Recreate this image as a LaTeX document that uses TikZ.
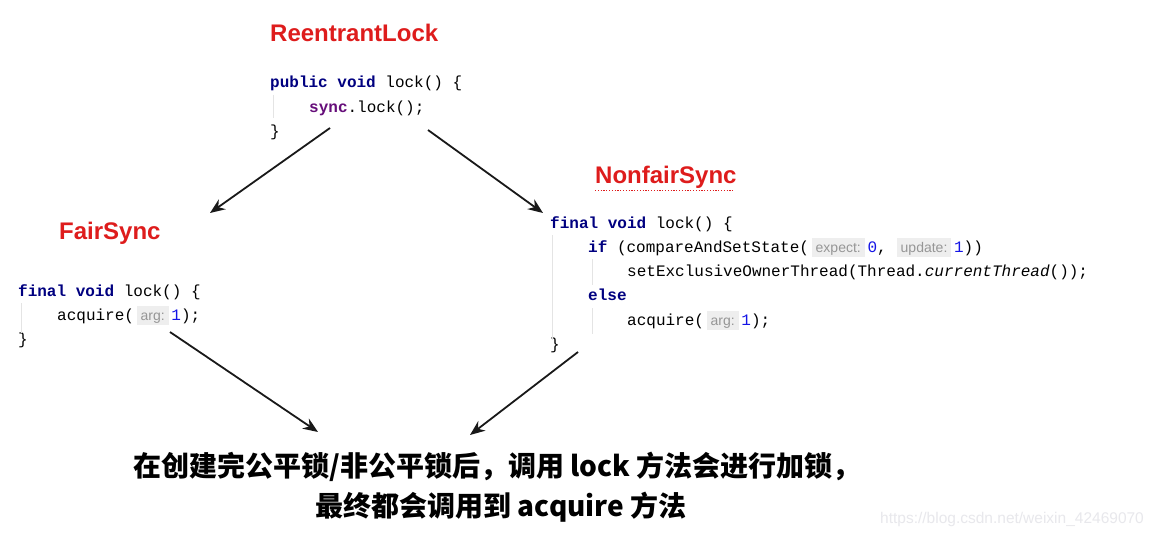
\documentclass[tikz,border=0pt]{standalone}
\usepackage{fontspec}
\setmainfont{Liberation Sans}
\setmonofont{Liberation Mono}
\newfontfamily\cjk{Noto Sans CJK SC}
\newfontfamily\hfont{Liberation Sans}
\usetikzlibrary{arrows.meta}
\definecolor{kw}{RGB}{0,0,128}
\definecolor{fld}{RGB}{102,14,122}
\definecolor{num}{RGB}{20,20,230}
\definecolor{ttl}{RGB}{222,28,28}
\definecolor{hintbg}{RGB}{238,238,238}
\definecolor{hinttx}{RGB}{150,150,150}
\definecolor{guide}{RGB}{228,228,228}
\definecolor{wm}{RGB}{232,232,236}
\newcommand\kwd[1]{\textcolor{kw}{\bfseries #1}}
\newcommand\nm[1]{\textcolor{num}{#1}}
\newcommand\hnt[1]{{\setlength\fboxsep{0pt}\colorbox{hintbg}{\rule[-5pt]{0pt}{19pt}\hspace{4pt}{\hfont\fontsize{14}{14}\selectfont\color{hinttx}#1}\hspace{4pt}}}}
\tikzset{
  code/.style={anchor=base west, inner sep=0pt, font=\ttfamily\fontsize{16}{16}\selectfont},
  ttlnode/.style={anchor=base west, inner sep=0pt, text=ttl, font=\bfseries\fontsize{24}{24}\selectfont},
  arr/.style={-{Stealth[length=15pt,width=12pt]}, line width=1.8pt, black!90},
  gline/.style={draw=guide, line width=1pt},
  note/.style={anchor=base, inner sep=0pt, font=\cjk\bfseries\fontsize{28}{28}\selectfont}
}
\begin{document}
\begin{tikzpicture}[x=1pt,y=-1pt]
\useasboundingbox[fill=white] (0,0) rectangle (1160,535);
% ReentrantLock
\node[ttlnode] (rt) at (270,42) {ReentrantLock};
\node[code] (r1) at (270,88) {\kwd{public void} lock() \{};
\node[code] (r2) at (309,112) {\textcolor{fld}{\bfseries sync}.lock();};
\node[code] (r3) at (270,136) {\}};
\draw[gline] (273,95) -- (273,118);
% FairSync
\node[ttlnode] (ft) at (59,239) {FairSync};
\node[code] (f1) at (18,296) {\kwd{final void} lock() \{};
\node[code] (f2) at (57,320) {acquire(\,\hnt{arg:}\,\nm{1});};
\node[code] (f3) at (18,344) {\}};
\draw[gline] (21,303) -- (21,333);
% NonfairSync
\node[ttlnode] (nt) at (595,183) {NonfairSync};
\draw[ttl, line width=1.2pt, dash pattern=on 1.2pt off 1.6pt] (nt.south west) ++(0,2.5) -- ++(139,0);
\node[code] (n1) at (550,228) {\kwd{final void} lock() \{};
\node[code] (n2) at (588,252) {\kwd{if} (compareAndSetState(\,\hnt{expect:}\,\nm{0},\hspace{10pt}\hnt{update:}\,\nm{1}))};
\node[code] (n3) at (627,276) {setExclusiveOwnerThread(Thread.\textit{currentThread}());};
\node[code] (n4) at (588,300) {\kwd{else}};
\node[code] (n5) at (627,325) {acquire(\,\hnt{arg:}\,\nm{1});};
\node[code] (n6) at (550,349) {\}};
\draw[gline] (552,235) -- (552,340);
\draw[gline] (592,259) -- (592,285);
\draw[gline] (592,308) -- (592,334);
% bottom text
\node[note] (t1) at (497,476) {在创建完公平锁/非公平锁后，调用 lock 方法会进行加锁，};
\node[note] (t2) at (501,516) {最终都会调用到 acquire 方法};
% arrows
\coordinate (a1s) at (330,128); \coordinate (a1e) at (210,213);
\coordinate (a2s) at (428,130); \coordinate (a2e) at (543,213);
\coordinate (a3s) at (170,332); \coordinate (a3e) at (318,432);
\coordinate (a4s) at (578,352); \coordinate (a4e) at (470,435);
\draw[arr] (a1s) -- (a1e);
\draw[arr] (a2s) -- (a2e);
\draw[arr] (a3s) -- (a3e);
\draw[arr] (a4s) -- (a4e);
% watermark
\node[anchor=base west, inner sep=0pt, text=wm, font=\fontsize{15.5}{15.5}\selectfont] (wmk) at (880,523) {https://blog.csdn.net/weixin\_42469070};
\end{tikzpicture}
\end{document}
